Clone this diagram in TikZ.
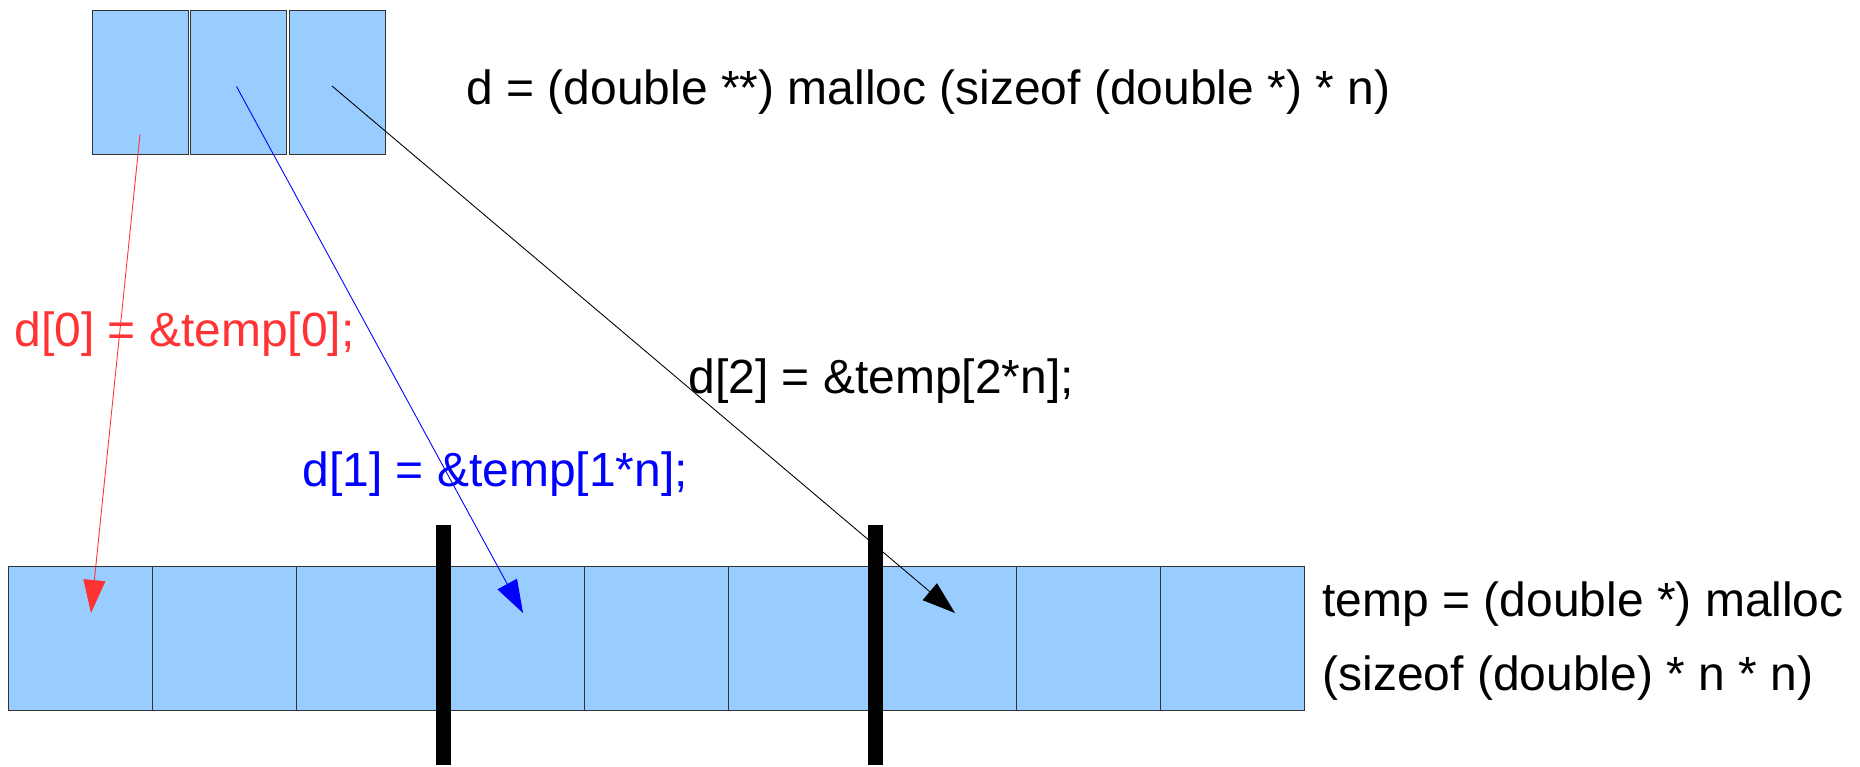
\documentclass[tikz,border=0pt]{standalone}
\usepackage{fontspec}
\setmainfont{Liberation Sans}
\usetikzlibrary{arrows.meta, positioning, calc}
\definecolor{cellblue}{HTML}{99CCFF}
\definecolor{ptrred}{HTML}{FF3333}
\definecolor{ptrblue}{HTML}{0000FF}

\begin{document}
\begin{tikzpicture}[>={Triangle[length=6.6mm, width=4.4mm]}, line width=0.5pt,
  ptrbox/.style={draw=black!80, fill=cellblue, minimum width=1.92cm,
    minimum height=2.88cm, outer sep=0pt, inner sep=0pt},
  cell/.style={draw=black!80, fill=cellblue, minimum size=2.88cm,
    outer sep=0pt, inner sep=0pt},
  code/.style={inner sep=0pt, anchor=west, align=left,
    font=\fontsize{27.3}{42}\selectfont},
  divider/.style={line width=3mm, black}
  ]

% Background
\useasboundingbox (0,0) rectangle (37.2,15.32);

% --- Pointer array d ---
\node[ptrbox] (d0) at (2.80,13.68) {};
\node[ptrbox, right=0.05cm of d0] (d1) {};
\node[ptrbox, right=0.05cm of d1] (d2) {};

\node[code] (dlabel) at (9.32,13.47)
  {d = (double **) malloc (sizeof (double *) * n)};

% --- Data block temp ---
\node[cell] (t0) at (1.60,2.56) {};
\node[cell, right=0pt of t0] (t1) {};
\node[cell, right=0pt of t1] (t2) {};
\node[cell, right=0pt of t2] (t3) {};
\node[cell, right=0pt of t3] (t4) {};
\node[cell, right=0pt of t4] (t5) {};
\node[cell, right=0pt of t5] (t6) {};
\node[cell, right=0pt of t6] (t7) {};
\node[cell, right=0pt of t7] (t8) {};

\node[code] (tlabel) at (26.44,2.50)
  {temp = (double *) malloc\\(sizeof (double) * n * n)};

% Row boundaries
\draw[divider] ($(t3.north west)+(0.06,0.82)$) -- ($(t3.south west)+(0.06,-1.10)$);
\draw[divider] ($(t6.north west)+(0.06,0.82)$) -- ($(t6.south west)+(0.06,-1.10)$);

% --- Row pointers ---
\draw[ptrred, ->] ($(d0.center)+(0,-1.05)$) -- ($(t0.center)+(0.22,0.50)$);
\draw[ptrblue, ->] ($(d1.center)+(-0.04,-0.09)$) -- ($(t3.center)+(0.22,0.50)$);
\draw[black, ->] ($(d2.center)+(-0.10,-0.08)$) -- ($(t6.center)+(0.22,0.50)$);

\node[code, text=ptrred] (lab0) at (0.28,8.64) {d[0] = \&temp[0];};
\node[code, text=ptrblue] (lab1) at (6.04,5.84) {d[1] = \&temp[1*n];};
\node[code] (lab2) at (13.76,7.70) {d[2] = \&temp[2*n];};

\end{tikzpicture}
\end{document}
